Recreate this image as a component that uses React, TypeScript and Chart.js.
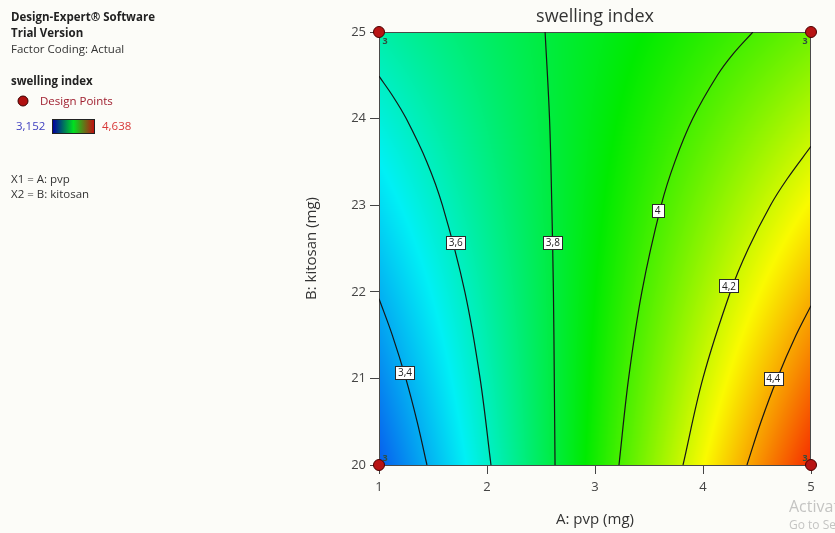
import React, { useEffect, useRef } from "react";
import { Chart, registerables } from "chart.js";

Chart.register(...registerables);

// ---- data ----
const pvpLevels = [1, 2, 3, 4, 5];
const kitosanLevels = [20, 21, 22, 23, 24, 25];
// rows = kitosan levels (20..25), cols = pvp levels (1..5)
const swellingGrid = [
  [3.25, 3.588, 3.925, 4.263, 4.6],
  [3.328, 3.619, 3.91, 4.2, 4.491],
  [3.406, 3.65, 3.894, 4.138, 4.382],
  [3.484, 3.682, 3.879, 4.077, 4.274],
  [3.562, 3.713, 3.864, 4.014, 4.165],
  [3.64, 3.744, 3.848, 3.952, 4.056],
];
const colorMin = 3.152;
const colorMax = 4.638;
const xTickValues = [1, 2, 3, 4, 5];
const yTickValues = [20, 21, 22, 23, 24, 25];

const designPoints = [
  { x: 1, y: 20 },
  { x: 5, y: 20 },
  { x: 1, y: 25 },
  { x: 5, y: 25 },
];
const designReplicates = ["3", "3", "3", "3"];

const contour34 = [
  { x: 1.444, y: 20 }, { x: 1.353, y: 20.5 }, { x: 1.248, y: 21 }, { x: 1.123, y: 21.5 }, { x: 1.0, y: 21.92 },
];
const contour36 = [
  { x: 2.037, y: 20 }, { x: 1.936, y: 21 }, { x: 1.795, y: 22 }, { x: 1.587, y: 23 }, { x: 1.443, y: 23.5 },
  { x: 1.252, y: 24 }, { x: 1.133, y: 24.25 }, { x: 1.0, y: 24.49 },
];
const contour38 = [
  { x: 2.63, y: 20 }, { x: 2.623, y: 21 }, { x: 2.615, y: 22 }, { x: 2.6, y: 23 }, { x: 2.579, y: 24 }, { x: 2.538, y: 25 },
];
const contour40 = [
  { x: 3.222, y: 20 }, { x: 3.311, y: 21 }, { x: 3.434, y: 22 }, { x: 3.613, y: 23 }, { x: 3.739, y: 23.5 },
  { x: 3.905, y: 24 }, { x: 4.133, y: 24.5 }, { x: 4.281, y: 24.75 }, { x: 4.462, y: 25 },
];
const contour42 = [
  { x: 3.815, y: 20 }, { x: 3.999, y: 21 }, { x: 4.254, y: 22 }, { x: 4.42, y: 22.5 }, { x: 4.625, y: 23 },
  { x: 4.777, y: 23.3 }, { x: 5.0, y: 23.68 },
];
const contour44 = [
  { x: 4.407, y: 20 }, { x: 4.537, y: 20.5 }, { x: 4.687, y: 21 }, { x: 4.862, y: 21.5 }, { x: 5.0, y: 21.84 },
];
const contourLabels = [
  { x: 1.24, y: 21.07, text: "3,4" },
  { x: 1.71, y: 22.57, text: "3,6" },
  { x: 2.61, y: 22.57, text: "3,8" },
  { x: 3.58, y: 22.94, text: "4" },
  { x: 4.24, y: 22.07, text: "4,2" },
  { x: 4.65, y: 21.0, text: "4,4" },
];

const FONT = "'Open Sans', 'Noto Sans', sans-serif";

const colorStops: [number, number[]][] = [
  [0, [10, 40, 235]],
  [0.25, [0, 240, 245]],
  [0.5, [0, 235, 0]],
  [0.75, [250, 250, 0]],
  [1, [245, 20, 0]],
];

function colorFor(v: number): number[] {
  let t = (v - colorMin) / (colorMax - colorMin);
  t = Math.max(0, Math.min(1, t));
  for (let i = 0; i < colorStops.length - 1; i++) {
    const [t0, c0] = colorStops[i];
    const [t1, c1] = colorStops[i + 1];
    if (t <= t1) {
      const f = (t - t0) / (t1 - t0);
      return [0, 1, 2].map((k) => Math.round(c0[k] + (c1[k] - c0[k]) * f));
    }
  }
  return colorStops[colorStops.length - 1][1];
}

function findCell(levels: number[], v: number): [number, number] {
  let i = 0;
  while (i < levels.length - 2 && v > levels[i + 1]) i++;
  const f = (v - levels[i]) / (levels[i + 1] - levels[i]);
  return [i, Math.max(0, Math.min(1, f))];
}

function gridValue(a: number, b: number): number {
  const [i, fx] = findCell(pvpLevels, a);
  const [j, fy] = findCell(kitosanLevels, b);
  const v00 = swellingGrid[j][i];
  const v10 = swellingGrid[j][i + 1];
  const v01 = swellingGrid[j + 1][i];
  const v11 = swellingGrid[j + 1][i + 1];
  return v00 * (1 - fx) * (1 - fy) + v10 * fx * (1 - fy) + v01 * (1 - fx) * fy + v11 * fx * fy;
}

const surfacePlugin = {
  id: "surface",
  beforeDraw(chart: any) {
    const { ctx, width, height } = chart;
    ctx.save();
    ctx.fillStyle = "rgb(252,252,248)";
    ctx.fillRect(0, 0, width, height);
    ctx.restore();
  },
  beforeDatasetsDraw(chart: any) {
    const { ctx, chartArea, scales } = chart;
    const { left, top, right, bottom } = chartArea;
    const w = Math.round(right - left);
    const h = Math.round(bottom - top);
    const off = document.createElement("canvas");
    off.width = w;
    off.height = h;
    const octx = off.getContext("2d")!;
    const img = octx.createImageData(w, h);
    for (let py = 0; py < h; py++) {
      const b = scales.y.getValueForPixel(top + py + 0.5);
      for (let px = 0; px < w; px++) {
        const a = scales.x.getValueForPixel(left + px + 0.5);
        const c = colorFor(gridValue(a, b));
        const k = (py * w + px) * 4;
        img.data[k] = c[0];
        img.data[k + 1] = c[1];
        img.data[k + 2] = c[2];
        img.data[k + 3] = 255;
      }
    }
    octx.putImageData(img, 0, 0);
    ctx.save();
    ctx.drawImage(off, left, top);
    ctx.strokeStyle = "#4a4a4a";
    ctx.lineWidth = 1;
    ctx.strokeRect(left + 0.5, top + 0.5, w - 1, h);
    ctx.restore();
  },
  afterDatasetsDraw(chart: any) {
    const { ctx, scales } = chart;
    ctx.save();
    // contour labels
    ctx.font = `10px ${FONT}`;
    ctx.textAlign = "center";
    ctx.textBaseline = "middle";
    contourLabels.forEach((l) => {
      const px = scales.x.getPixelForValue(l.x);
      const py = scales.y.getPixelForValue(l.y);
      const tw = ctx.measureText(l.text).width;
      const bw = Math.max(12, Math.round(tw + 5));
      const bh = 13;
      const bx = Math.round(px - bw / 2) + 0.5;
      const by = Math.round(py - bh / 2) + 0.5;
      ctx.fillStyle = "#ffffff";
      ctx.fillRect(bx, by, bw, bh);
      ctx.strokeStyle = "#2a2a2a";
      ctx.lineWidth = 1;
      ctx.strokeRect(bx, by, bw, bh);
      ctx.fillStyle = "#222";
      ctx.fillText(l.text, px, py + 1);
    });
    // replicate counts near design points
    ctx.font = `bold 9px ${FONT}`;
    ctx.fillStyle = "#2f4f3f";
    designPoints.forEach((p, i) => {
      const px = scales.x.getPixelForValue(p.x);
      const py = scales.y.getPixelForValue(p.y);
      const dx = p.x === 1 ? 6 : -6;
      const dy = p.y === 25 ? 9 : -7;
      ctx.fillText(designReplicates[i], px + dx, py + dy);
    });
    ctx.restore();
  },
  afterDraw(chart: any) {
    const { ctx, chartArea } = chart;
    const cx = (chartArea.left + chartArea.right) / 2;
    ctx.save();
    // title
    ctx.fillStyle = "#333";
    ctx.textAlign = "center";
    ctx.textBaseline = "middle";
    ctx.font = `18px ${FONT}`;
    ctx.fillText("swelling index", cx, 17);
    // axis titles
    ctx.font = `15px ${FONT}`;
    ctx.fillText("A: pvp (mg)", cx, 520);
    ctx.save();
    ctx.translate(312, (chartArea.top + chartArea.bottom) / 2);
    ctx.rotate(-Math.PI / 2);
    ctx.fillText("B: kitosan (mg)", 0, 0);
    ctx.restore();

    // left info panel
    ctx.textAlign = "left";
    ctx.textBaseline = "middle";
    ctx.fillStyle = "#222";
    ctx.font = `bold 11.5px ${FONT}`;
    ctx.fillText("Design-Expert\u00AE Software", 11, 18);
    ctx.fillText("Trial Version", 11, 34);
    ctx.font = `11.5px ${FONT}`;
    ctx.fillStyle = "#333";
    ctx.fillText("Factor Coding: Actual", 11, 50);
    ctx.font = `bold 11.5px ${FONT}`;
    ctx.fillStyle = "#222";
    ctx.fillText("swelling index", 11, 82);
    // design point marker
    ctx.beginPath();
    ctx.arc(23, 101, 5, 0, Math.PI * 2);
    ctx.fillStyle = "#b01010";
    ctx.fill();
    ctx.strokeStyle = "#3a0000";
    ctx.lineWidth = 1;
    ctx.stroke();
    ctx.font = `11.5px ${FONT}`;
    ctx.fillStyle = "#a02030";
    ctx.fillText("Design Points", 40, 102);
    // colour bar
    ctx.fillStyle = "#4040c0";
    ctx.fillText("3,152", 16, 127);
    const grad = ctx.createLinearGradient(53, 0, 94, 0);
    grad.addColorStop(0, "#0000a0");
    grad.addColorStop(0.5, "#00e020");
    grad.addColorStop(1, "#c01010");
    ctx.fillStyle = grad;
    ctx.fillRect(53, 120, 41, 13);
    ctx.strokeStyle = "#222";
    ctx.strokeRect(52.5, 119.5, 42, 14);
    ctx.fillStyle = "#d83838";
    ctx.fillText("4,638", 102, 127);
    ctx.fillStyle = "#333";
    ctx.fillText("X1 = A: pvp", 11, 180);
    ctx.fillText("X2 = B: kitosan", 11, 195);

    // OS overlay text at bottom right
    ctx.fillStyle = "rgba(150,150,150,0.55)";
    ctx.font = `16px ${FONT}`;
    ctx.fillText("Activate Windows", 789, 507);
    ctx.font = `12px ${FONT}`;
    ctx.fillText("Go to Settings", 789, 526);
    ctx.restore();
  },
};

function contourDataset(data: { x: number; y: number }[]) {
  return {
    type: "line" as const,
    data,
    borderColor: "#161616",
    borderWidth: 1.2,
    pointRadius: 0,
    tension: 0.35,
    fill: false,
    order: 2,
  };
}

export default function App() {
  const ref = useRef<HTMLCanvasElement>(null);
  useEffect(() => {
    if (!ref.current) return;
    const chart = new Chart(ref.current, {
      type: "scatter",
      data: {
        datasets: [
          {
            type: "scatter",
            data: designPoints,
            pointRadius: 5.5,
            pointBackgroundColor: "#b81414",
            pointBorderColor: "#4a0000",
            pointBorderWidth: 1,
            clip: false,
            order: 0,
          } as any,
          contourDataset(contour34),
          contourDataset(contour36),
          contourDataset(contour38),
          contourDataset(contour40),
          contourDataset(contour42),
          contourDataset(contour44),
        ],
      },
      options: {
        responsive: false,
        animation: false,
        events: [],
        layout: { padding: { left: 300, right: 24, top: 32, bottom: 0 } },
        plugins: { legend: { display: false }, tooltip: { enabled: false }, title: { display: false } },
        scales: {
          x: {
            type: "linear",
            min: 1,
            max: 5,
            afterFit: (s: any) => {
              s.height = 68;
            },
            afterBuildTicks: (s: any) => {
              s.ticks = xTickValues.map((v) => ({ value: v }));
            },
            grid: { drawOnChartArea: false, color: "#444", tickLength: 9, tickWidth: 1 },
            border: { display: true, color: "#4a4a4a" },
            ticks: {
              color: "#444",
              font: { family: FONT, size: 13 },
              padding: 5,
              maxRotation: 0,
              callback: (v: any) => String(v),
            },
          },
          y: {
            type: "linear",
            min: 20,
            max: 25,
            afterFit: (s: any) => {
              s.width = 79;
            },
            afterBuildTicks: (s: any) => {
              s.ticks = yTickValues.map((v) => ({ value: v }));
            },
            grid: { drawOnChartArea: false, color: "#444", tickLength: 9, tickWidth: 1 },
            border: { display: true, color: "#4a4a4a" },
            ticks: {
              color: "#444",
              font: { family: FONT, size: 13 },
              padding: 4,
              callback: (v: any) => String(v),
            },
          },
        },
      } as any,
      plugins: [surfacePlugin],
    });
    return () => chart.destroy();
  }, []);
  return (
    <div style={{ position: "fixed", left: 0, top: 0, width: 835, height: 533, overflow: "hidden" }}>
      <canvas ref={ref} width={835} height={533} style={{ display: "block" }} />
    </div>
  );
}
